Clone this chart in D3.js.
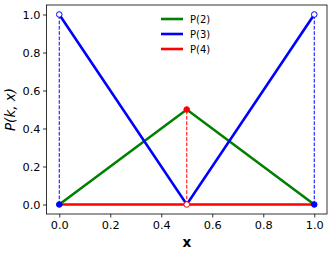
<!DOCTYPE html>
<html><head><meta charset="utf-8">
<script src="https://cdn.jsdelivr.net/npm/d3@7"></script>
<style>body{margin:0;background:#fff}svg{display:block}</style>
</head><body><svg id="c" width="332" height="254"></svg>
<script>
const xs = [0, 0.5, 1];
const p2 = [0, 0.5, 0];
const p3 = [1, 0, 1];
const p4 = [0, 0, 0];
const seriesNames = ["P(2)", "P(3)", "P(4)"];
const seriesColors = ["green", "blue", "red"];
const xTicks = [0, 0.2, 0.4, 0.6, 0.8, 1.0];
const yTicks = [0, 0.2, 0.4, 0.6, 0.8, 1.0];
// jump points
const jumpX = [0, 0.5, 1];
const jumpLow = [0, 0, 0];
const jumpHigh = [1, 0.5, 1];
const jumpColor = ["blue", "red", "blue"];
const openAtHigh = [true, false, true];

const svg = d3.select("#c");
const L = 46.5, R = 327, T = 5, B = 214;
const x = d3.scaleLinear().domain([-0.05, 1.05]).range([L, R]);
const y = d3.scaleLinear().domain([-0.05, 1.05]).range([B, T]);

svg.append("rect").attr("x", L).attr("y", T).attr("width", R - L).attr("height", B - T)
  .attr("fill", "none").attr("stroke", "#000").attr("stroke-width", 0.8);

const xa = svg.append("g").attr("transform", `translate(0,${B})`)
  .call(d3.axisBottom(x).tickValues(xTicks).tickFormat(d3.format(".1f")).tickSize(3.5).tickSizeOuter(0));
const ya = svg.append("g").attr("transform", `translate(${L},0)`)
  .call(d3.axisLeft(y).tickValues(yTicks).tickFormat(d3.format(".1f")).tickSize(3.5).tickSizeOuter(0));
[xa, ya].forEach(a => {
  a.select(".domain").remove();
  a.selectAll("text").attr("font-family", "DejaVu Sans").attr("font-size", 11.3).attr("fill", "#000");
  a.selectAll("line").attr("stroke", "#000").attr("stroke-width", 0.8);
});
xa.selectAll("text").attr("dy", "0.71em").attr("y", 6.5);
ya.selectAll("text").attr("x", -6);

const line = d3.line().x(d => x(d[0])).y(d => y(d[1]));
const all = [p2, p3, p4];
all.forEach((s, i) => {
  svg.append("path").attr("d", line(xs.map((v, j) => [v, s[j]])))
    .attr("fill", "none").attr("stroke", seriesColors[i]).attr("stroke-width", 2.6);
});
jumpX.forEach((v, i) => {
  svg.append("line").attr("x1", x(v)).attr("x2", x(v)).attr("y1", y(jumpLow[i])).attr("y2", y(jumpHigh[i]))
    .attr("stroke", jumpColor[i]).attr("stroke-width", 1).attr("stroke-dasharray", "3.7,1.6");
});
jumpX.forEach((v, i) => {
  const c = jumpColor[i];
  const hiOpen = openAtHigh[i];
  svg.append("circle").attr("cx", x(v)).attr("cy", y(jumpHigh[i])).attr("r", 2.8)
    .attr("fill", hiOpen ? "#fff" : c).attr("stroke", c).attr("stroke-width", 1);
  svg.append("circle").attr("cx", x(v)).attr("cy", y(jumpLow[i])).attr("r", 2.8)
    .attr("fill", hiOpen ? c : "#fff").attr("stroke", c).attr("stroke-width", 1);
});

seriesNames.forEach((n, i) => {
  const yy = 19 + i * 15;
  svg.append("line").attr("x1", 161).attr("x2", 183).attr("y1", yy).attr("y2", yy)
    .attr("stroke", seriesColors[i]).attr("stroke-width", 2.6);
  svg.append("text").attr("x", 190).attr("y", yy).attr("dy", "0.35em")
    .attr("font-family", "DejaVu Sans").attr("font-size", 10).text(n);
});

svg.append("text").attr("x", (L + R) / 2).attr("y", 247).attr("text-anchor", "middle")
  .attr("font-family", "DejaVu Sans").attr("font-weight", "bold").attr("font-size", 13.5).text("x");
svg.append("text").attr("transform", `translate(15,${(T + B) / 2}) rotate(-90)`).attr("text-anchor", "middle")
  .attr("font-family", "DejaVu Sans").attr("font-style", "italic").attr("font-size", 13.5).text("P(k, x)");
</script></body></html>
